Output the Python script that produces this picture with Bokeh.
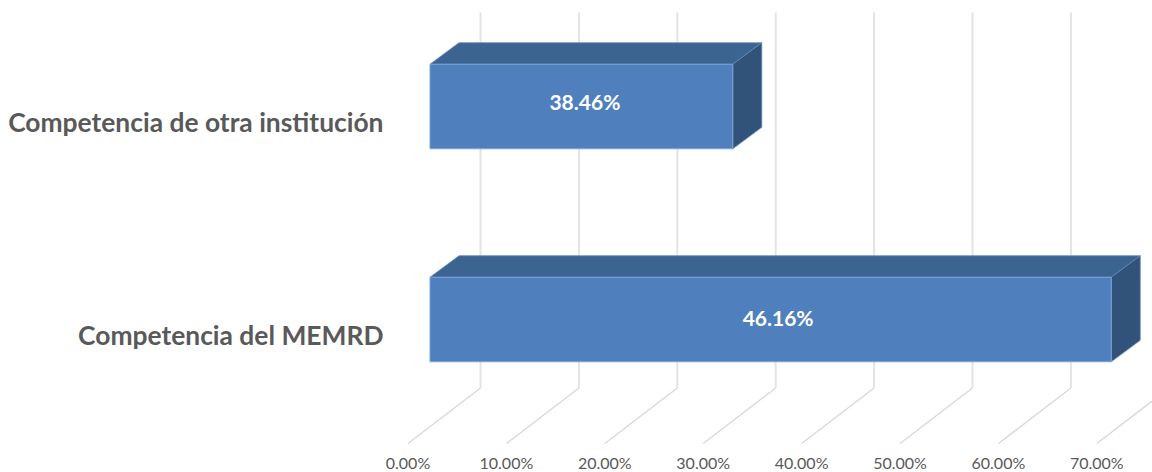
from bokeh.plotting import figure
from bokeh.models import Range1d, LinearAxis, FixedTicker, ColumnDataSource
from bokeh.core.properties import value
from bokeh.embed import file_html
from bokeh.resources import INLINE

# ---- data
categories = ["Competencia del MEMRD", "Competencia de otra institución"]
bar_values = [69.23, 30.77]
data_labels = ["46.16%", "38.46%"]
tick_values = [0, 10, 20, 30, 40, 50, 60, 70]
tick_labels = ["0.00%", "10.00%", "20.00%", "30.00%", "40.00%", "50.00%", "60.00%", "70.00%"]
cat_pos = [0, 1]

# ---- geometry of the oblique projection
W, H = 1152, 472
PAGE = 0
X0, PX_PER_PCT = 429.5, 9.84      # page x of 0 %, scale of the front plane
Y0, PX_PER_CAT = 319.0, 213.0     # page y of first category, spacing

def dx(px):
    return px / PX_PER_PCT
def ypos(py):
    return (Y0 - py) / PX_PER_CAT

BAR_H = 84.5 / PX_PER_CAT
BAR_DX, BAR_DY = dx(29), 21.5 / PX_PER_CAT
WALL_DX = dx(50.5)
FLOOR_DX = dx(-22)
LABEL_DY = 15 / PX_PER_CAT

p = figure(width=W, height=H, output_backend="svg", toolbar_location=None,
           x_axis_type=None, y_axis_type=None, min_border=0,
           x_range=Range1d((PAGE - X0) / PX_PER_PCT, (PAGE + W - X0) / PX_PER_PCT),
           y_range=Range1d(ypos(PAGE + H), ypos(PAGE)))
p.outline_line_color = None
p.grid.visible = False
p.background_fill_color = "white"
p.border_fill_color = "white"

# wall grid lines and floor lines
wall_x = [v + WALL_DX for v in tick_values]
floor_x = [v + FLOOR_DX for v in tick_values]
p.segment(wall_x, [ypos(12)] * 8, wall_x, [ypos(387.5)] * 8, line_color="#e4e4e4", line_width=2)
p.segment(wall_x, [ypos(387.5)] * 8, floor_x, [ypos(443)] * 8, line_color="#d9d9d9", line_width=1.4)

# bars
tops_x, tops_y, sides_x, sides_y = [], [], [], []
for c, v in zip(cat_pos, bar_values):
    t, b = c + BAR_H / 2, c - BAR_H / 2
    tops_x.append([0, v, v + BAR_DX, BAR_DX])
    tops_y.append([t, t, t + BAR_DY, t + BAR_DY])
    sides_x.append([v, v + BAR_DX, v + BAR_DX, v])
    sides_y.append([t, t + BAR_DY, b + BAR_DY, b])
p.patches(tops_x, tops_y, fill_color="#3c6491", line_color="#5f86b6", line_width=0.8)
p.patches(sides_x, sides_y, fill_color="#325379", line_color="#5f86b6", line_width=0.8)
p.hbar(y=cat_pos, right=bar_values, left=0, height=BAR_H,
       fill_color="#4f80bd", line_color="#7aa3d6", line_width=1)

# data labels
src = ColumnDataSource(dict(x=[v / 2 for v in bar_values], y=cat_pos, t=data_labels,
                            off=[7.5, 3.5], yoff=[-2.5, -5]))
p.text("x", "y", text="t", x_offset="off", y_offset="yoff", source=src, text_color="white",
       text_font=value("Lato"), text_font_style="bold", text_font_size="21px",
       text_align="center", text_baseline="middle")

# axes
p.extra_x_ranges["floor"] = Range1d(p.x_range.start - FLOOR_DX, p.x_range.end - FLOOR_DX)
xax = LinearAxis(x_range_name="floor", ticker=FixedTicker(ticks=tick_values),
                 major_label_overrides=dict(zip(tick_values, tick_labels)),
                 fixed_location=ypos(444), axis_line_color=None,
                 major_tick_line_color=None, minor_tick_line_color=None,
                 major_label_standoff=2,
                 major_label_text_font="Lato", major_label_text_font_size="16px",
                 major_label_text_color="#595959")
p.add_layout(xax, "below")
p.extra_y_ranges["cats"] = Range1d(p.y_range.start + LABEL_DY, p.y_range.end + LABEL_DY)
yax = LinearAxis(y_range_name="cats", ticker=FixedTicker(ticks=cat_pos),
                 major_label_overrides=dict(zip(cat_pos, categories)),
                 fixed_location=(384 - X0) / PX_PER_PCT, axis_line_color=None,
                 major_tick_line_color=None, minor_tick_line_color=None,
                 major_label_standoff=-5,
                 major_label_text_font="Lato", major_label_text_font_style="bold",
                 major_label_text_font_size="26.4px", major_label_text_color="#595959")
p.add_layout(yax, "left")

open("out.html", "w").write(file_html(p, INLINE))
